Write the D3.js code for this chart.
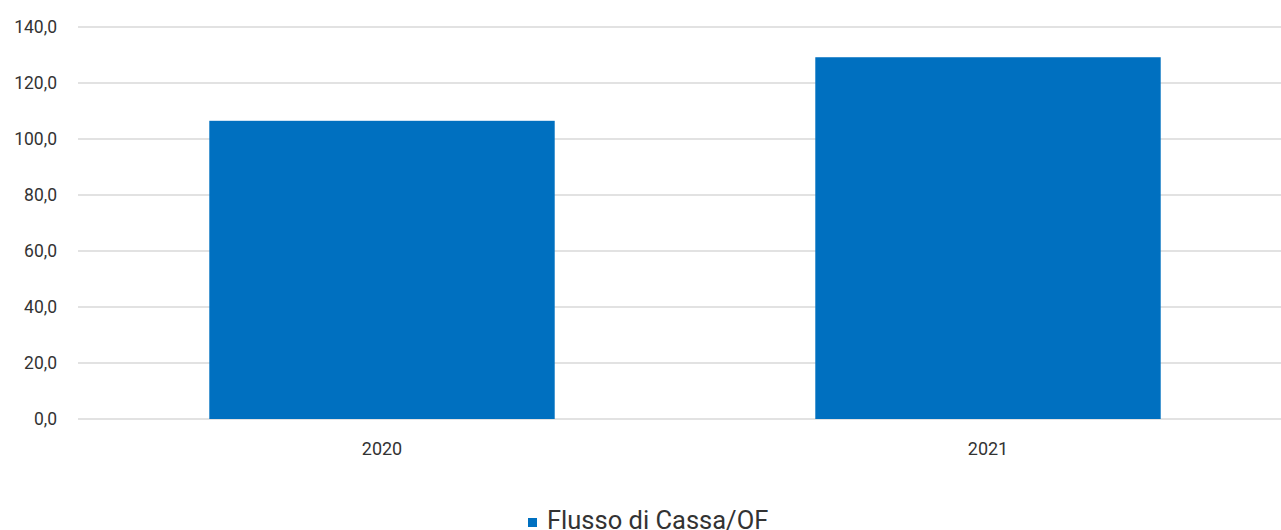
<!DOCTYPE html>
<html><head><meta charset="utf-8">
<script src="https://cdn.jsdelivr.net/npm/d3@7"></script>
<style>body{margin:0;background:#fff;}svg{display:block;font-family:Roboto, "Liberation Sans", Arial, sans-serif;}</style>
</head><body>
<svg id="c" width="1281" height="530"></svg>
<script>
const categories = ["2020", "2021"];
const values = [106.5, 129.2];
const yTicks = [0, 20, 40, 60, 80, 100, 120, 140];
const seriesName = "Flusso di Cassa/OF";

const svg = d3.select("#c");
const mLeft = 79, mRight = 1291, mTop = 27, mBottom = 419;
const x = d3.scaleBand().domain(categories).range([mLeft, mRight]).paddingInner(0.43).paddingOuter(0.215);
const y = d3.scaleLinear().domain([0, 140]).range([mBottom, mTop]);
const fmt = d => d.toFixed(1).replace(".", ",");

svg.append("g").selectAll("line").data(yTicks).join("line")
  .attr("x1", mLeft - 1).attr("x2", 1281)
  .attr("y1", d => y(d)).attr("y2", d => y(d))
  .attr("stroke", "#d9d9d9").attr("stroke-width", 1.3);

svg.append("g").selectAll("text").data(yTicks).join("text")
  .attr("x", 57).attr("y", d => y(d)).attr("dy", "0.35em")
  .attr("text-anchor", "end").attr("font-size", 17.5).attr("fill", "#333")
  .text(fmt);

svg.append("g").selectAll("rect").data(values).join("rect")
  .attr("x", (d, i) => x(categories[i])).attr("width", x.bandwidth())
  .attr("y", d => y(d)).attr("height", d => y(0) - y(d))
  .attr("fill", "#0070c0");

svg.append("g").selectAll("text").data(categories).join("text")
  .attr("x", d => x(d) + x.bandwidth() / 2).attr("y", 449).attr("dy", "0.35em")
  .attr("text-anchor", "middle").attr("font-size", 18).attr("fill", "#333")
  .text(d => d);

const lg = svg.append("g");
lg.append("rect").attr("x", 528).attr("y", 518).attr("width", 9).attr("height", 9).attr("fill", "#0070c0");
lg.append("text").attr("x", 547).attr("y", 528.5).attr("font-size", 25.5).attr("fill", "#333").text(seriesName);
</script>
</body></html>
